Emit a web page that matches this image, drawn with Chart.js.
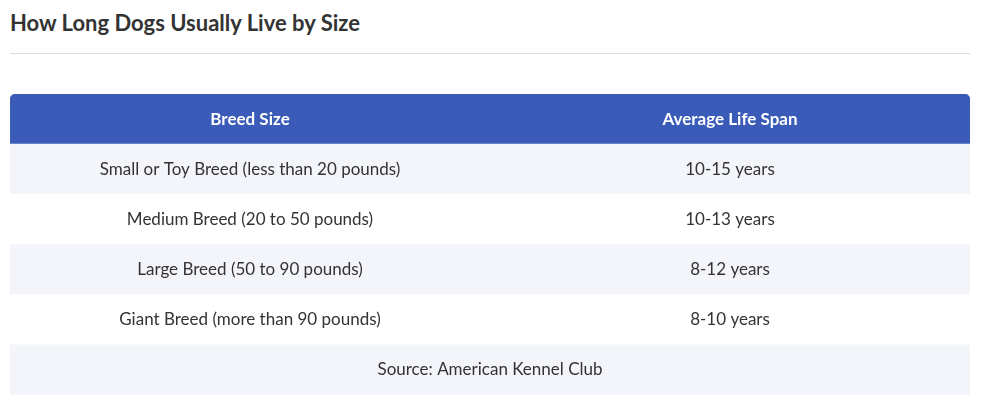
<!DOCTYPE html>
<html>
<head>
<meta charset="utf-8">
<script src="https://cdn.jsdelivr.net/npm/chart.js@4"></script>
<style>
  body { margin: 0; background: #fff; font-family: Lato, "Noto Sans", sans-serif; }
  h2 { position: absolute; left: 10px; top: 9px; margin: 0; font-size: 22px; font-weight: 700; color: #333; }
  .rule { position: absolute; left: 10px; top: 53px; width: 960px; height: 1px; background: #dedede; }
  .wrap { position: absolute; left: 10px; top: 94px; width: 960px; height: 301px; }
</style>
</head>
<body>
<h2>How Long Dogs Usually Live by Size</h2>
<div class="rule"></div>
<div class="wrap"><canvas id="c"></canvas></div>
<script>
const columns = ['Breed Size', 'Average Life Span'];
const breedSizes = [
  'Small or Toy Breed (less than 20 pounds)',
  'Medium Breed (20 to 50 pounds)',
  'Large Breed (50 to 90 pounds)',
  'Giant Breed (more than 90 pounds)'
];
const lifeSpans = ['10-15 years', '10-13 years', '8-12 years', '8-10 years'];
const source = 'Source: American Kennel Club';

const rowKeys = ['header', ...breedSizes, 'source'];
const rowColors = ['#3a5cb8', '#f3f5fa', '#ffffff', '#f3f5fa', '#ffffff', '#f3f5fa'];

const cellText = {
  id: 'cellText',
  afterDatasetsDraw(chart) {
    const { ctx, scales: { x, y } } = chart;
    ctx.save();
    ctx.textAlign = 'center';
    ctx.textBaseline = 'middle';
    rowKeys.forEach((key, i) => {
      const cy = y.getPixelForValue(i);
      if (i === 0) {
        ctx.fillStyle = '#ffffff';
        ctx.font = '700 17px Lato, "Noto Sans", sans-serif';
        ctx.fillText(columns[0], x.getPixelForValue(0.5), cy);
        ctx.fillText(columns[1], x.getPixelForValue(1.5), cy);
      } else {
        ctx.fillStyle = '#333333';
        ctx.font = '400 17px Lato, "Noto Sans", sans-serif';
        if (key === 'source') {
          ctx.fillText(source, x.getPixelForValue(1), cy);
        } else {
          ctx.fillText(breedSizes[i - 1], x.getPixelForValue(0.5), cy);
          ctx.fillText(lifeSpans[i - 1], x.getPixelForValue(1.5), cy);
        }
      }
    });
    ctx.restore();
  }
};

new Chart(document.getElementById('c'), {
  type: 'bar',
  data: {
    labels: rowKeys,
    datasets: [{
      data: rowKeys.map(() => [0, 2]),
      backgroundColor: rowColors,
      borderWidth: 0,
      borderSkipped: false,
      borderRadius: (c) => c.dataIndex === 0 ? { topLeft: 6, topRight: 6, bottomLeft: 0, bottomRight: 0 } : 0,
      barPercentage: 1,
      categoryPercentage: 1
    }]
  },
  options: {
    indexAxis: 'y',
    responsive: true,
    maintainAspectRatio: false,
    animation: false,
    layout: { padding: 0 },
    scales: {
      x: { display: false, min: 0, max: 2 },
      y: { display: false }
    },
    plugins: { legend: { display: false }, tooltip: { enabled: false } }
  },
  plugins: [cellText]
});
</script>
</body>
</html>
